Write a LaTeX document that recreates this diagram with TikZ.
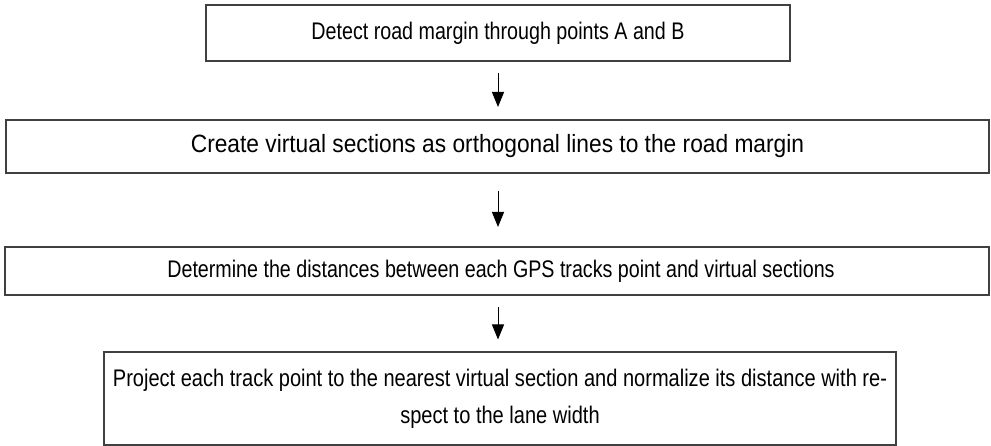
\documentclass[tikz,border=0pt]{standalone}
\usepackage{fontspec}
\setmainfont[FakeStretch=0.82]{Liberation Sans}
\newfontfamily\widefont[FakeStretch=0.91]{Liberation Sans}
\newfontfamily\tightfont[FakeStretch=0.835]{Liberation Sans}
\usetikzlibrary{arrows.meta}

\begin{document}
\begin{tikzpicture}[x=1pt, y=-1pt,
	step box/.style={rectangle,draw=black!75,line width=2pt,inner sep=0pt,
		font=\fontsize{24}{37}\selectfont},
	flow/.style={line width=1pt,-{Triangle[length=15pt,width=12pt]},
		shorten <=11pt, shorten >=12pt}]

	\useasboundingbox (0,0) rectangle (991,446);

	\node[step box, minimum width=584pt, minimum height=56pt] (1) at (498,33)
		{Detect road margin through points A and B};
	\node[step box, minimum width=983pt, minimum height=53pt,
		font=\fontsize{25}{30}\widefont] (2) at (497.5,146.5)
		{Create virtual sections as orthogonal lines to the road margin};
	\node[step box, minimum width=984pt, minimum height=48pt] (3) at (497,271)
		{\hspace{8pt}Determine the distances between each GPS tracks point and virtual sections};
	\node[step box, minimum width=792pt, minimum height=92pt, text width=790pt,
		align=flush center, font=\fontsize{24}{37}\tightfont] (4) at (500,398.5)
		{Project each track point to the nearest virtual section and normalize its distance with re-\\
		spect to the lane width};

	\draw[flow] (1.south) -- (1.south |- 2.north);
	\draw[flow, shorten <=17pt, shorten >=19pt] (2.south -| 1.south) -- (1.south |- 3.north);
	\draw[flow] (3.south -| 1.south) -- (1.south |- 4.north);

\end{tikzpicture}
\end{document}
